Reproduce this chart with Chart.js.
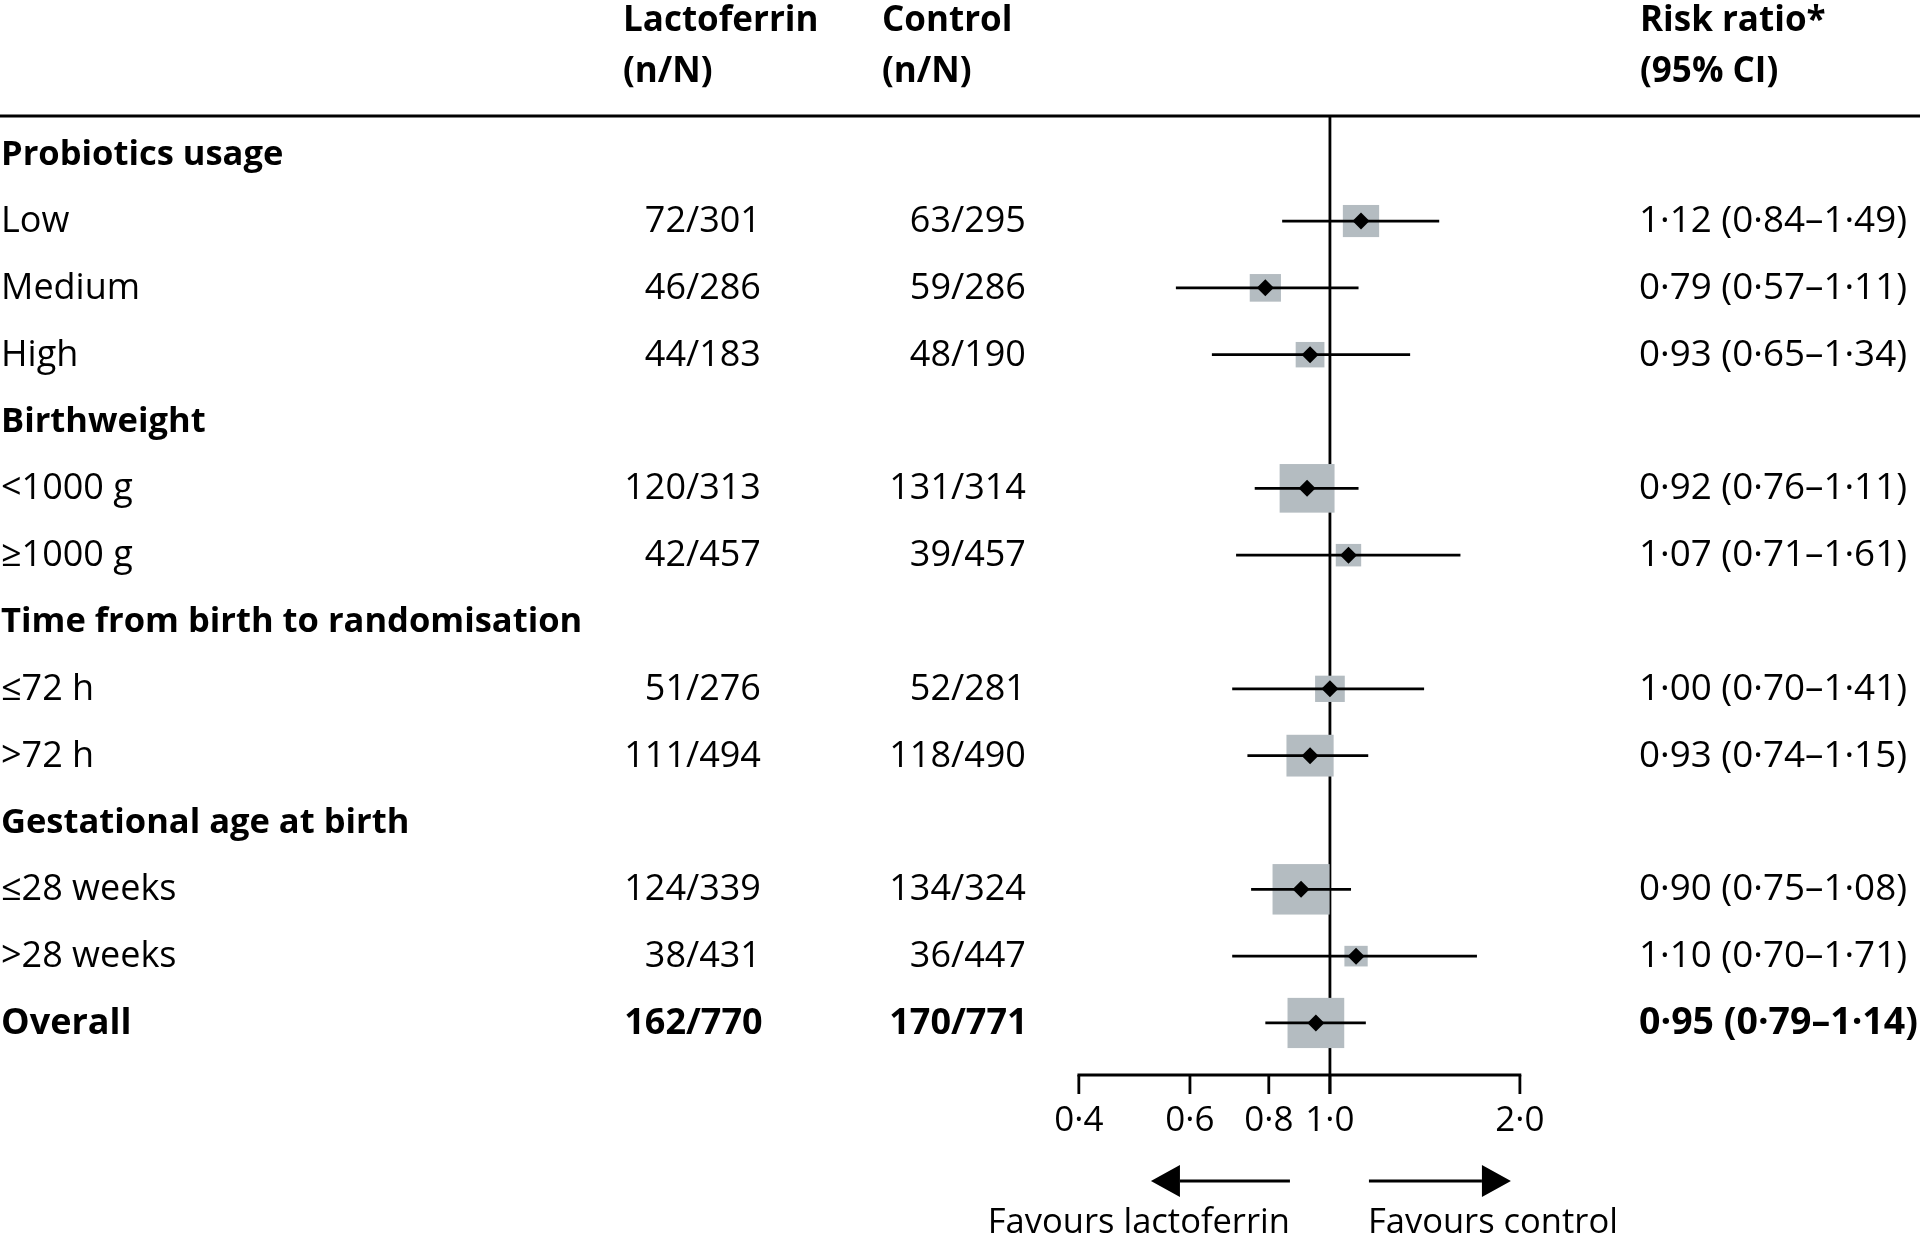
<!DOCTYPE html>
<html>
<head>
<meta charset="utf-8">
<script src="https://cdn.jsdelivr.net/npm/chart.js@4/dist/chart.umd.min.js"></script>
<style>
  html, body { margin: 0; padding: 0; background: #fff; }
  #wrap { width: 1920px; height: 1236px; position: relative; }
</style>
</head>
<body>
<div id="wrap"><canvas id="c"></canvas></div>
<script>
// ---- data ----
const rowLabels = ["Probiotics usage", "Low", "Medium", "High", "Birthweight", "<1000 g", "\u22651000 g",
  "Time from birth to randomisation", "\u226472 h", ">72 h", "Gestational age at birth", "\u226428 weeks", ">28 weeks", "Overall"];
const rowIsGroup = [true, false, false, false, true, false, false, true, false, false, true, false, false, false];
const rowIsTotal = [false, false, false, false, false, false, false, false, false, false, false, false, false, true];
const lactoEvents = [null, 72, 46, 44, null, 120, 42, null, 51, 111, null, 124, 38, 162];
const lactoTotal  = [null, 301, 286, 183, null, 313, 457, null, 276, 494, null, 339, 431, 770];
const ctrlEvents  = [null, 63, 59, 48, null, 131, 39, null, 52, 118, null, 134, 36, 170];
const ctrlTotal   = [null, 295, 286, 190, null, 314, 457, null, 281, 490, null, 324, 447, 771];
const riskRatio = [null, 1.12, 0.79, 0.93, null, 0.92, 1.07, null, 1.00, 0.93, null, 0.90, 1.10, 0.95];
const ciLower   = [null, 0.84, 0.57, 0.65, null, 0.76, 0.71, null, 0.70, 0.74, null, 0.75, 0.70, 0.79];
const ciUpper   = [null, 1.49, 1.11, 1.34, null, 1.11, 1.61, null, 1.41, 1.15, null, 1.08, 1.71, 1.14];
const tickValues = [0.4, 0.6, 0.8, 1.0, 2.0];
const headerLactoferrin = ["Lactoferrin", "(n/N)"];
const headerControl = ["Control", "(n/N)"];
const headerRisk = ["Risk ratio*", "(95% CI)"];
const favourLabels = ["Favours lactoferrin", "Favours control"];

// ---- helpers ----
const FONT = '"Open Sans", "Noto Sans", sans-serif';
const fmt = v => v.toFixed(2).replace('.', '\u00B7');
const fmt1 = v => v.toFixed(1).replace('.', '\u00B7');
const rows = rowLabels.map((_, i) => i);
const dataRows = rows.filter(i => riskRatio[i] !== null);

const diamondData = dataRows.map(i => ({ x: riskRatio[i], y: i }));
const ciDatasets = dataRows.map(i => ({
  type: 'scatter',
  showLine: true,
  data: [{ x: ciLower[i], y: i }, { x: ciUpper[i], y: i }],
  borderColor: '#000',
  borderWidth: 2.8,
  pointRadius: 0,
  borderCapStyle: 'butt'
}));

const forestPlugin = {
  id: 'forest',
  beforeDatasetsDraw(chart) {
    const { ctx, scales: { x, y } } = chart;
    const x1 = x.getPixelForValue(1.0);
    const axisY = 1075;
    const tickEnd = 1094;
    ctx.save();
    // header rule
    ctx.fillStyle = '#000';
    ctx.fillRect(0, 114.5, 1920, 3);
    // reference line at 1.0
    ctx.strokeStyle = '#000';
    ctx.lineWidth = 2.8;
    ctx.beginPath();
    ctx.moveTo(x1, 116);
    ctx.lineTo(x1, tickEnd);
    ctx.stroke();
    // x axis line
    const xa = x.getPixelForValue(tickValues[0]);
    const xb = x.getPixelForValue(tickValues[tickValues.length - 1]);
    ctx.beginPath();
    ctx.moveTo(xa - 1.4, axisY);
    ctx.lineTo(xb + 1.4, axisY);
    ctx.stroke();
    // ticks
    tickValues.forEach(v => {
      const px = x.getPixelForValue(v);
      ctx.beginPath();
      ctx.moveTo(px, axisY);
      ctx.lineTo(px, tickEnd);
      ctx.stroke();
    });
    // tick labels
    ctx.font = '35px ' + FONT;
    ctx.textAlign = 'center';
    ctx.textBaseline = 'alphabetic';
    tickValues.forEach(v => {
      ctx.fillText(fmt1(v), x.getPixelForValue(v), 1131);
    });
    // arrows
    const ay = 1181;
    ctx.lineWidth = 2.8;
    ctx.beginPath();
    ctx.moveTo(x1 - 40, ay); ctx.lineTo(x1 - 150, ay);
    ctx.moveTo(x1 + 39, ay); ctx.lineTo(x1 + 152, ay);
    ctx.stroke();
    ctx.beginPath();
    ctx.moveTo(x1 - 179, ay); ctx.lineTo(x1 - 150, ay - 16); ctx.lineTo(x1 - 150, ay + 16); ctx.closePath();
    ctx.moveTo(x1 + 181, ay); ctx.lineTo(x1 + 152, ay - 16); ctx.lineTo(x1 + 152, ay + 16); ctx.closePath();
    ctx.fill();
    ctx.font = '34.5px ' + FONT;
    ctx.textAlign = 'right';
    ctx.fillText(favourLabels[0], x1 - 40, 1233);
    ctx.textAlign = 'left';
    ctx.fillText(favourLabels[1], x1 + 38, 1233);
    // weight boxes (side proportional to inverse standard error)
    ctx.fillStyle = '#b4bcc1';
    dataRows.forEach(i => {
      const cx = x.getPixelForValue(riskRatio[i]);
      const cy = y.getPixelForValue(i);
      const w = 20.8 / Math.log(ciUpper[i] / ciLower[i]);
      const h = w * 0.885;
      ctx.fillRect(cx - w / 2, cy - h / 2, w, h);
    });
    ctx.restore();
  },
  afterDraw(chart) {
    const { ctx, scales: { y } } = chart;
    ctx.save();
    ctx.fillStyle = '#000';
    ctx.textBaseline = 'alphabetic';
    // column headers
    ctx.font = 'bold 35px ' + FONT;
    ctx.textAlign = 'left';
    [[headerLactoferrin, 623], [headerControl, 882], [headerRisk, 1640]].forEach(([lines, hx]) => {
      ctx.fillText(lines[0], hx, 31);
      ctx.fillText(lines[1], hx, 82);
    });
    const slashL = 686, slashC = 951, rrX = 1639;
    rows.forEach(i => {
      const py = y.getPixelForValue(i);
      const total = rowIsTotal[i];
      const bold = rowIsGroup[i] || total;
      const size = rowIsGroup[i] ? 34.5 : 36;
      const weight = bold ? 'bold ' : '';
      ctx.font = weight + size + 'px ' + FONT;
      const base = py + 0.357 * size - 2;
      ctx.textAlign = 'left';
      ctx.fillText(rowLabels[i], 1, base);
      if (lactoEvents[i] !== null) {
        ctx.textAlign = 'right';
        ctx.fillText(String(lactoEvents[i]), slashL, base);
        ctx.fillText(String(ctrlEvents[i]), slashC, base);
        ctx.textAlign = 'left';
        ctx.fillText('/' + lactoTotal[i], slashL, base);
        ctx.fillText('/' + ctrlTotal[i], slashC, base);
      }
      if (riskRatio[i] !== null) {
        ctx.font = weight + (total ? 37.5 : 36.8) + 'px ' + FONT;
        ctx.textAlign = 'left';
        ctx.fillText(fmt(riskRatio[i]) + ' (' + fmt(ciLower[i]) + '\u2013' + fmt(ciUpper[i]) + ')', rrX, base);
      }
    });
    ctx.restore();
  }
};

new Chart(document.getElementById('c'), {
  type: 'scatter',
  data: {
    datasets: [
      {
        data: diamondData,
        pointStyle: 'rectRot',
        pointRadius: 8.5,
        backgroundColor: '#000',
        borderColor: '#000',
        borderWidth: 0
      },
      ...ciDatasets
    ]
  },
  options: {
    responsive: true,
    maintainAspectRatio: false,
    animation: false,
    events: [],
    layout: { padding: { left: 1000, right: 289, top: 87.37, bottom: 146.2 } },
    plugins: { legend: { display: false }, tooltip: { enabled: false } },
    scales: {
      x: { type: 'logarithmic', min: 0.3, max: 3.0, display: false },
      y: { type: 'linear', min: -1, max: 14, reverse: true, display: false }
    }
  },
  plugins: [forestPlugin]
});
</script>
</body>
</html>
